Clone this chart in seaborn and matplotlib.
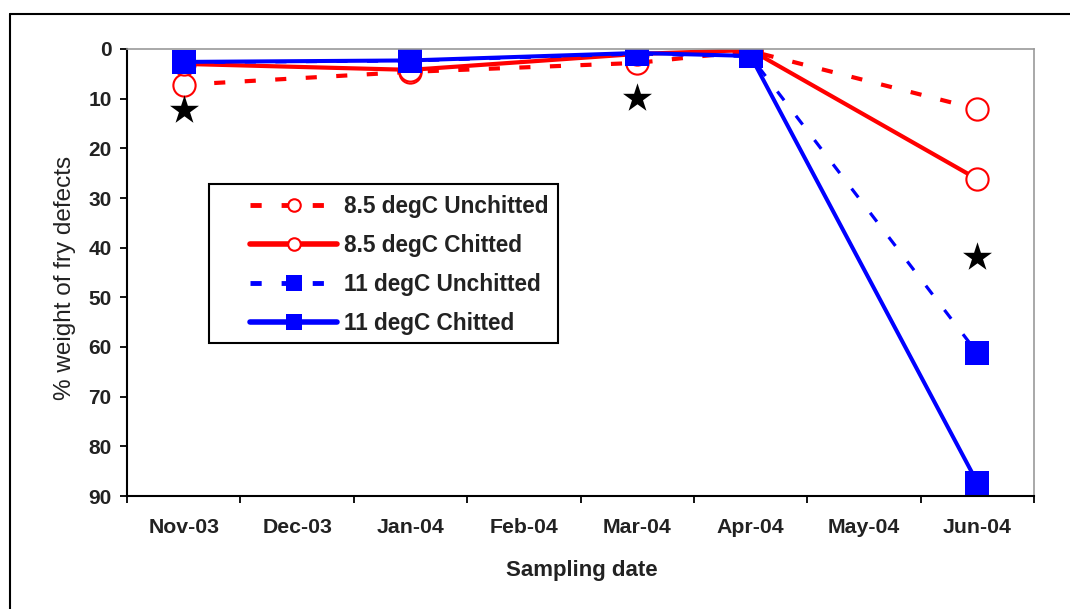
import matplotlib
matplotlib.use("Agg")
import matplotlib.pyplot as plt
from matplotlib.lines import Line2D
from matplotlib.patches import Rectangle
import seaborn as sns
import numpy as np

# ---- data ----
months = ["Nov-03", "Dec-03", "Jan-04", "Feb-04", "Mar-04", "Apr-04", "May-04", "Jun-04"]
sample_dates = ["Nov-03", "Jan-04", "Mar-04", "Apr-04", "Jun-04"]
unchitted_85 = [7.2, 4.6, 2.8, 0.4, 12.1]
chitted_85 = [3.0, 4.2, 1.0, 0.2, 26.2]
unchitted_11 = [2.7, 2.4, 1.0, 1.5, 61.2]
chitted_11 = [2.6, 2.3, 0.8, 1.4, 87.3]
star_dates = ["Nov-03", "Mar-04", "Jun-04"]
star_values = [12.3, 9.9, 41.8]
series_labels = ["8.5 degC Unchitted", "8.5 degC Chitted", "11 degC Unchitted", "11 degC Chitted"]
y_ticks = [0, 10, 20, 30, 40, 50, 60, 70, 80, 90]

sns.set_theme(style="white")
plt.rcParams["font.family"] = ["Liberation Sans", "DejaVu Sans"]

W, H = 1070, 609
fig = plt.figure(figsize=(W / 100, H / 100), dpi=100)
L, R, B, T = 127, 1034, 496, 49
ax = fig.add_axes([L / W, 1 - B / H, (R - L) / W, (B - T) / H])

xs = [months.index(m) for m in sample_dates]
RED, BLUE = "#FF0000", "#0000FF"

def draw(vals, color, marker, dashed, lw, ms, mfc, mew):
    sns.lineplot(x=xs, y=vals, ax=ax, color=color, marker=marker, markersize=ms,
                 markerfacecolor=mfc, markeredgecolor=color, markeredgewidth=mew,
                 linewidth=lw, errorbar=None, legend=False)
    ln = ax.lines[-1]
    if dashed:
        ln.set_linestyle((0, (8.0 / lw, 14.0 / lw)))
    return ln

draw(unchitted_85, RED, "o", True, 3.0, 16, "white", 1.5)
draw(chitted_85, RED, "o", False, 3.0, 16, "white", 1.5)
draw(unchitted_11, BLUE, "s", True, 2.3, 17, BLUE, 0)
draw(chitted_11, BLUE, "s", False, 2.9, 17, BLUE, 0)

sx = [months.index(m) for m in star_dates]
sns.scatterplot(x=sx, y=star_values, ax=ax, marker="*", s=480, color="black",
                edgecolor="black", linewidth=0, zorder=10, legend=False)

# axes
ax.set_xlim(-0.5, len(months) - 0.5)
ax.set_ylim(90, 0)
ax.set_yticks(y_ticks)
ax.set_yticklabels([str(v) for v in y_ticks], fontsize=15, fontweight="bold", color="#222222")
ax.set_xticks(np.arange(len(months) + 1) - 0.5)
ax.set_xticklabels([])
ax.set_xticks(np.arange(len(months)), minor=True)
ax.set_xticklabels(months, minor=True, fontsize=15.3, fontweight="bold", color="#222222")
ax.tick_params(axis="x", which="major", direction="out", length=5, width=1.3, color="black", bottom=True)
ax.tick_params(axis="x", which="minor", length=0, pad=16)
ax.tick_params(axis="y", direction="out", length=5, width=1.3, color="black", pad=6, left=True)
for s in ["left", "bottom"]:
    ax.spines[s].set_color("black")
    ax.spines[s].set_linewidth(1.5)
for s in ["top", "right"]:
    ax.spines[s].set_color("#999999")
    ax.spines[s].set_linewidth(1.2)
ax.grid(False)

ax.set_xlabel("Sampling date", fontsize=16, fontweight="bold", color="#222222")
ax.xaxis.set_label_coords((582 - L) / (R - L), (B - 560) / (B - T))
ax.set_ylabel("% weight of fry defects", fontsize=17.5, color="#222222")
ax.yaxis.label.set_va("center")
ax.yaxis.set_label_coords((65 - L) / (R - L), (B - 278) / (B - T))

# legend
handles = [
    Line2D([], [], color=RED, lw=3.5, ls=(0, (2.3, 4.1)), marker="o", ms=9, mfc="white", mec=RED, mew=1.5),
    Line2D([], [], color=RED, lw=4, marker="o", ms=9, mfc="white", mec=RED, mew=1.5),
    Line2D([], [], color=BLUE, lw=3.5, ls=(0, (2.3, 4.1)), marker="s", ms=11, mfc=BLUE, mec=BLUE, mew=0),
    Line2D([], [], color=BLUE, lw=4, marker="s", ms=11, mfc=BLUE, mec=BLUE, mew=0),
]
leg = ax.legend(handles, series_labels, loc="upper left",
                bbox_to_anchor=((250 - L) / (R - L), (B - 195) / (B - T)),
                frameon=False, borderpad=0, borderaxespad=0, handlelength=3.85,
                handletextpad=0.3, labelspacing=0.7,
                prop={"size": 16.3, "weight": "bold"})
for t in leg.get_texts():
    t.set_color("#222222")
ax.add_patch(Rectangle(((209 - L) / (R - L), (B - 343) / (B - T)),
                       (558 - 209) / (R - L), (343 - 184) / (B - T),
                       transform=ax.transAxes, fill=False, edgecolor="black",
                       linewidth=1.5, zorder=3, clip_on=False))

# figure frame (left and top edges)
fig.add_artist(Line2D([10 / W, 10 / W], [0, 1 - 14 / H], transform=fig.transFigure, color="black", lw=1.5))
fig.add_artist(Line2D([10 / W, 1], [1 - 14 / H, 1 - 14 / H], transform=fig.transFigure, color="black", lw=1.5))

fig.savefig("out.png", dpi=100, facecolor="white")
